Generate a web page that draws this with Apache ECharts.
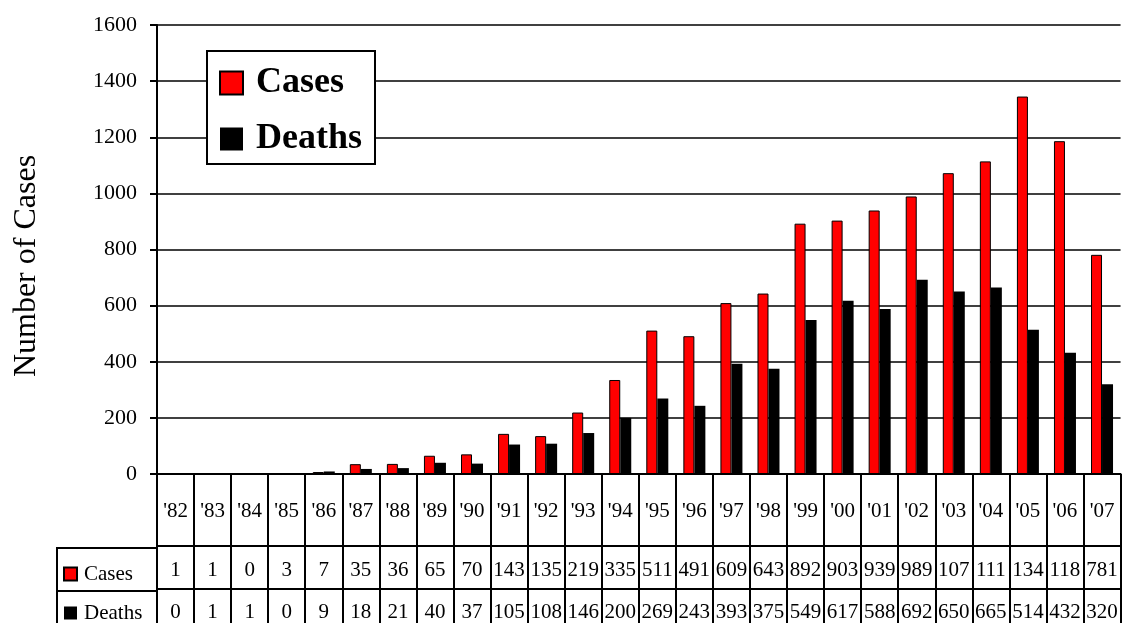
<!DOCTYPE html>
<html>
<head>
<meta charset="utf-8">
<title>Cases and Deaths</title>
<script src="https://cdn.jsdelivr.net/npm/echarts@6/dist/echarts.min.js"></script>
<style>
  html, body { margin: 0; padding: 0; background: #fff; }
  #chart { width: 1122px; height: 623px; }
</style>
</head>
<body>
<div id="chart"></div>
<script>
const years = ["'82", "'83", "'84", "'85", "'86", "'87", "'88", "'89", "'90", "'91", "'92", "'93", "'94",
  "'95", "'96", "'97", "'98", "'99", "'00", "'01", "'02", "'03", "'04", "'05", "'06", "'07"]
const cases = [1, 1, 0, 3, 7, 35, 36, 65, 70, 143, 135, 219, 335,
  511, 491, 609, 643, 892, 903, 939, 989, 1072, 1114, 1345, 1186, 781]
const deaths = [0, 1, 1, 0, 9, 18, 21, 40, 37, 105, 108, 146, 200,
  269, 243, 393, 375, 549, 617, 588, 692, 650, 665, 514, 432, 320]

const serif = 'Liberation Serif, Times New Roman, serif'

const chart = echarts.init(document.getElementById('chart'))

// table rows under the plot are extra category axes pushed down with offset
const tableAxis = (data, offset, margin) => ({
  type: 'category',
  data: data.map(String),
  position: 'bottom',
  offset,
  axisLine: { show: true, lineStyle: { color: '#000', width: 2 } },
  axisTick: { show: false },
  axisLabel: {
    interval: 0,
    margin,
    color: '#000',
    fontFamily: serif,
    fontSize: 21,
    lineHeight: 22,
    width: 34,
    overflow: 'truncate',
    ellipsis: ''
  }
})

chart.setOption({
  animation: false,
  backgroundColor: '#fff',
  grid: { left: 157, top: 25, right: 0, bottom: 147 },
  legend: [{
    orient: 'vertical',
    left: 207,
    top: 51,
    padding: [12, 13, 5, 12],
    itemWidth: 23,
    itemHeight: 23,
    itemGap: 16,
    icon: 'rect',
    backgroundColor: '#fff',
    borderColor: '#000',
    borderWidth: 2,
    borderRadius: 0,
    textStyle: {
      color: '#000',
      fontFamily: serif,
      fontWeight: 'bold',
      fontSize: 36,
      lineHeight: 40,
      padding: [0, 0, 0, 8]
    },
    data: ['Cases', 'Deaths']
  }, {
    // keys in the table's left column
    orient: 'vertical',
    left: 63,
    top: 563,
    height: 90,
    padding: 0,
    itemWidth: 13,
    itemHeight: 13,
    itemGap: 17,
    icon: 'rect',
    textStyle: {
      color: '#000',
      fontFamily: serif,
      fontSize: 21,
      lineHeight: 22,
      padding: [0, 0, 0, 2]
    },
    data: ['Cases', 'Deaths']
  }],
  xAxis: [{
    type: 'category',
    data: years,
    boundaryGap: true,
    axisLine: { lineStyle: { color: '#000', width: 2 } },
    axisTick: { show: true, interval: 0, length: 150, lineStyle: { color: '#000', width: 2 } },
    axisLabel: {
      interval: 0,
      margin: 26,
      color: '#000',
      fontFamily: serif,
      fontSize: 21,
      lineHeight: 22
    }
  },
  tableAxis(cases, 72, 13),
  tableAxis(deaths, 115, 12)],
  yAxis: {
    type: 'value',
    min: 0,
    max: 1600,
    interval: 200,
    axisLine: { show: true, lineStyle: { color: '#000', width: 2 } },
    axisTick: { show: true, length: 7, lineStyle: { color: '#000', width: 2 } },
    axisLabel: {
      margin: 20,
      color: '#000',
      fontFamily: serif,
      fontSize: 22,
      formatter: v => String(v)
    },
    splitLine: { lineStyle: { color: '#000', width: 1.5 } }
  },
  graphic: [{
    type: 'text',
    x: 27,
    y: 266,
    rotation: Math.PI / 2,
    style: {
      text: 'Number of Cases',
      font: '32px ' + serif,
      fill: '#000',
      textAlign: 'center',
      textVerticalAlign: 'middle'
    }
  }, {
    type: 'polyline',
    shape: { points: [[157, 548], [57, 548], [57, 640]] },
    style: { stroke: '#000', lineWidth: 2, fill: null }
  }, {
    type: 'line',
    shape: { x1: 57, y1: 591, x2: 157, y2: 591 },
    style: { stroke: '#000', lineWidth: 2 }
  }],
  series: [{
    name: 'Cases',
    type: 'bar',
    xAxisIndex: 0,
    barWidth: 11,
    barGap: 0,
    itemStyle: { color: '#ff0000', borderColor: '#000', borderWidth: 1 },
    data: cases
  }, {
    name: 'Deaths',
    type: 'bar',
    xAxisIndex: 0,
    barWidth: 11,
    barGap: 0,
    itemStyle: { color: '#000' },
    data: deaths
  }]
})
</script>
</body>
</html>
